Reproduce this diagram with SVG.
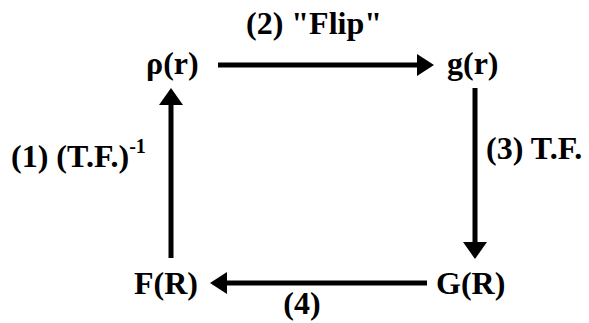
<svg xmlns="http://www.w3.org/2000/svg" width="589" height="323" viewBox="0 0 589 323">
<style>
text{font-family:'Liberation Serif','Times New Roman',serif;font-weight:bold;font-size:32px;fill:#000}
.sup{font-size:20px}
line{stroke:#000;stroke-width:5}
polygon{fill:#000}
</style>
<rect width="589" height="323" fill="#fff"/>
<g id="connectors">
<line x1="218" y1="65" x2="418" y2="65"/><polygon points="417,54 434,65 417,76"/>
<line x1="475" y1="88" x2="475" y2="243"/><polygon points="463,242 475,259 487,242"/>
<line x1="427" y1="283" x2="226" y2="283"/><polygon points="227,272 210,283 227,294"/>
<line x1="171" y1="258" x2="171" y2="104"/><polygon points="159,105 171,88 183,105"/>
<text x="246" y="34">(2) "Flip"</text>
<text x="486" y="159">(3) T.F.</text>
<text x="302" y="314" text-anchor="middle">(4)</text>
<text x="11" y="167">(1) (T.F.)<tspan class="sup" dy="-14">-1</tspan></text>
</g>
<g id="rho"><text x="146" y="74">ρ(r)</text></g>
<g id="g"><text x="447" y="74">g(r)</text></g>
<g id="G"><text x="436" y="294">G(R)</text></g>
<g id="F"><text x="134" y="294">F(R)</text></g>
</svg>
